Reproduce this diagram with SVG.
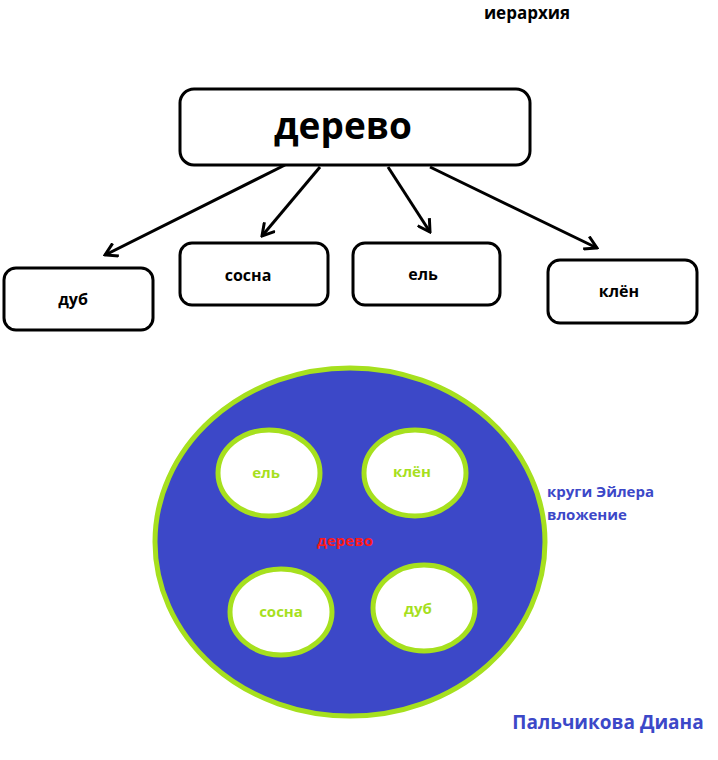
<svg xmlns="http://www.w3.org/2000/svg" width="718" height="760" viewBox="0 0 718 760">
<style>
text{font-family:"Open Sans","Liberation Sans",sans-serif;font-weight:bold}
.box{fill:#fff;stroke:#000;stroke-width:3}
.c{stroke:#000;stroke-width:3;fill:none}
.sm{fill:#fff;stroke:#a6e01e;stroke-width:5}
.g{fill:#a6e01e;font-size:15px}
</style>
<defs><marker id="a" markerWidth="16" markerHeight="16" refX="14" refY="8" orient="auto" markerUnits="userSpaceOnUse"><path d="M2,1 L14,8 L2,15" fill="none" stroke="#000" stroke-width="3"/></marker></defs>
<rect width="718" height="760" fill="#fff"/>
<text x="527" y="19" font-size="17" text-anchor="middle">иерархия</text>
<g id="connectors">
<line class="c" x1="285" y1="165" x2="105" y2="255" marker-end="url(#a)"/>
<line class="c" x1="320" y1="167" x2="262" y2="236" marker-end="url(#a)"/>
<line class="c" x1="388" y1="167" x2="430" y2="232" marker-end="url(#a)"/>
<line class="c" x1="430" y1="167" x2="597" y2="248" marker-end="url(#a)"/>
</g>
<g id="n-derevo"><rect class="box" x="180" y="89" width="350" height="76" rx="14"/><text x="343" y="139" font-size="37" text-anchor="middle">дерево</text></g>
<g id="n-dub"><rect class="box" x="4" y="268" width="149" height="62" rx="12"/><text x="73" y="305" font-size="16" text-anchor="middle">дуб</text></g>
<g id="n-sosna"><rect class="box" x="180" y="243" width="148" height="62" rx="12"/><text x="248" y="281" font-size="16" text-anchor="middle">сосна</text></g>
<g id="n-el"><rect class="box" x="353" y="243" width="147" height="62" rx="12"/><text x="423" y="280" font-size="16" text-anchor="middle">ель</text></g>
<g id="n-klen"><rect class="box" x="548" y="260" width="149" height="63" rx="12"/><text x="619" y="297" font-size="16" text-anchor="middle">клён</text></g>
<g id="euler">
<ellipse cx="350" cy="542" rx="195" ry="174" fill="#3c48c8" stroke="#a6e01e" stroke-width="5"/>
<text x="345" y="546" font-size="15" fill="#ff1a1a" text-anchor="middle">дерево</text>
<ellipse class="sm" cx="269" cy="473" rx="51" ry="43"/><text class="g" x="266" y="478" text-anchor="middle">ель</text>
<ellipse class="sm" cx="415" cy="473" rx="51" ry="43"/><text class="g" x="412" y="477" text-anchor="middle">клён</text>
<ellipse class="sm" cx="281" cy="612" rx="51" ry="43"/><text class="g" x="281" y="617" text-anchor="middle">сосна</text>
<ellipse class="sm" cx="424" cy="608" rx="51" ry="43"/><text class="g" x="418" y="614" text-anchor="middle">дуб</text>
</g>
<text x="547" y="497" font-size="15" fill="#3c48c8">круги Эйлера</text>
<text x="547" y="520" font-size="15" fill="#3c48c8">вложение</text>
<text x="608" y="729" font-size="19" fill="#3c48c8" text-anchor="middle">Пальчикова Диана</text>
</svg>
